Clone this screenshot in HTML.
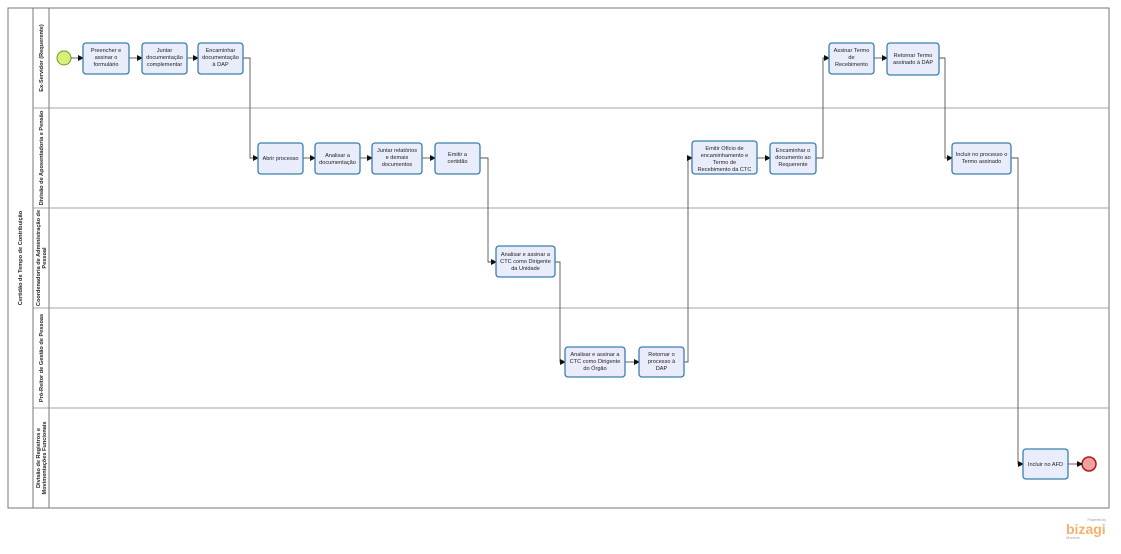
<!DOCTYPE html>
<html><head><meta charset="utf-8"><style>
html,body{margin:0;padding:0;background:#fff;width:1121px;height:554px;overflow:hidden}
svg{display:block}
text{font-family:"Liberation Sans",sans-serif}
.t{font-size:5.6px;fill:#222;text-anchor:middle}
.l{font-size:5.6px;font-weight:bold;fill:#222;text-anchor:middle}
.b{fill:#e9edfb;stroke:#3a7fae;stroke-width:1.3}
.c{fill:none;stroke:#555;stroke-width:0.9}
</style></head><body>
<svg width="1121" height="554" viewBox="0 0 1121 554">
<defs><marker id="a" markerWidth="6" markerHeight="6" refX="5" refY="3" orient="auto" markerUnits="userSpaceOnUse"><path d="M0,0 L6,3 L0,6 z" fill="#111"/></marker></defs>
<rect x="8" y="8" width="1101" height="500" fill="#fff" stroke="#777" stroke-width="1"/>
<line x1="33" y1="8" x2="33" y2="508" stroke="#777"/>
<line x1="49" y1="8" x2="49" y2="508" stroke="#777"/>
<g stroke="#888" stroke-width="0.8">
<line x1="33" y1="108" x2="1109" y2="108"/>
<line x1="33" y1="208" x2="1109" y2="208"/>
<line x1="33" y1="308" x2="1109" y2="308"/>
<line x1="33" y1="408" x2="1109" y2="408"/>
</g>
<text class="l" transform="translate(22,258) rotate(-90)">Certidão de Tempo de Contribuição</text>
<text class="l" transform="translate(43,58) rotate(-90)">Ex-Servidor (Requerente)</text>
<text class="l" transform="translate(43,158) rotate(-90)">Divisão de Aposentadoria e Pensão</text>
<text class="l" transform="translate(40,258) rotate(-90)">Coordenadoria de Administração de</text>
<text class="l" transform="translate(46,258) rotate(-90)">Pessoal</text>
<text class="l" transform="translate(43,358) rotate(-90)">Pró-Reitor de Gestão de Pessoas</text>
<text class="l" transform="translate(40,458) rotate(-90)">Divisão de Registros e</text>
<text class="l" transform="translate(46,458) rotate(-90)">Movimentações Funcionais</text>

<circle cx="64" cy="58" r="7" fill="#d6f07a" stroke="#6a9a20" stroke-width="1"/>
<circle cx="1089" cy="464" r="7" fill="#f0a0a0" stroke="#b01818" stroke-width="1.5"/>

<g class="c" marker-end="url(#a)">
<path d="M71,58 H83"/>
<path d="M129,58 H142"/>
<path d="M187,58 H198"/>
<path d="M243,58 H250 V158 H258"/>
<path d="M303,158 H315"/>
<path d="M360,158 H372"/>
<path d="M422,158 H435"/>
<path d="M480,158 H488 V262 H496"/>
<path d="M555,262 H560 V362 H565"/>
<path d="M625,362 H639"/>
<path d="M684,362 H688 V158 H692"/>
<path d="M757,158 H770"/>
<path d="M816,158 H823 V58 H829"/>
<path d="M874,58 H887"/>
<path d="M939,58 H945 V158 H952"/>
<path d="M1011,158 H1018 V464 H1023"/>
<path d="M1068,464 H1082"/>
</g>

<g>
<rect class="b" x="83" y="43" width="46" height="31" rx="3"/>
<text class="t" x="106" y="52">Preencher e</text><text class="t" x="106" y="59">assinar o</text><text class="t" x="106" y="66">formulário</text>
<rect class="b" x="142" y="43" width="45" height="31" rx="3"/>
<text class="t" x="164.5" y="52">Juntar</text><text class="t" x="164.5" y="59">documentação</text><text class="t" x="164.5" y="66">complementar</text>
<rect class="b" x="198" y="43" width="45" height="31" rx="3"/>
<text class="t" x="220.5" y="52">Encaminhar</text><text class="t" x="220.5" y="59">documentação</text><text class="t" x="220.5" y="66">à DAP</text>

<rect class="b" x="258" y="143" width="45" height="31" rx="3"/>
<text class="t" x="280.5" y="160">Abrir processo</text>
<rect class="b" x="315" y="143" width="45" height="31" rx="3"/>
<text class="t" x="337.5" y="157">Analisar a</text><text class="t" x="337.5" y="164">documentação</text>
<rect class="b" x="372" y="143" width="50" height="31" rx="3"/>
<text class="t" x="397" y="152">Juntar relatórios</text><text class="t" x="397" y="159">e demais</text><text class="t" x="397" y="166">documentos</text>
<rect class="b" x="435" y="143" width="45" height="31" rx="3"/>
<text class="t" x="457.5" y="156">Emitir a</text><text class="t" x="457.5" y="163">certidão</text>

<rect class="b" x="496" y="246" width="59" height="31" rx="3"/>
<text class="t" x="525.5" y="256">Analisar e assinar a</text><text class="t" x="525.5" y="263">CTC como Dirigente</text><text class="t" x="525.5" y="270">da Unidade</text>

<rect class="b" x="565" y="347" width="60" height="30" rx="3"/>
<text class="t" x="595" y="356">Analisar e assinar a</text><text class="t" x="595" y="363">CTC como Dirigente</text><text class="t" x="595" y="370">do Órgão</text>
<rect class="b" x="639" y="347" width="45" height="30" rx="3"/>
<text class="t" x="661.5" y="356">Retornar o</text><text class="t" x="661.5" y="363">processo à</text><text class="t" x="661.5" y="370">DAP</text>

<rect class="b" x="692" y="141" width="65" height="33" rx="3"/>
<text class="t" x="724.5" y="150">Emitir Ofício de</text><text class="t" x="724.5" y="157">encaminhamento e</text><text class="t" x="724.5" y="164">Termo de</text><text class="t" x="724.5" y="171">Recebimento da CTC</text>
<rect class="b" x="770" y="143" width="46" height="31" rx="3"/>
<text class="t" x="793" y="152">Encaminhar o</text><text class="t" x="793" y="159">documento ao</text><text class="t" x="793" y="166">Requerente</text>

<rect class="b" x="829" y="43" width="45" height="31" rx="3"/>
<text class="t" x="851.5" y="52">Assinar Termo</text><text class="t" x="851.5" y="59">de</text><text class="t" x="851.5" y="66">Recebimento</text>
<rect class="b" x="887" y="43" width="52" height="32" rx="3"/>
<text class="t" x="913" y="57">Retornar Termo</text><text class="t" x="913" y="64">assinado à DAP</text>

<rect class="b" x="952" y="143" width="59" height="31" rx="3"/>
<text class="t" x="981.5" y="156">Incluir no processo o</text><text class="t" x="981.5" y="163">Termo assinado</text>

<rect class="b" x="1023" y="449" width="45" height="30" rx="3"/>
<text class="t" x="1045.5" y="466">Incluir no AFD</text>
</g>

<text x="1106" y="521" font-size="3.5" fill="#999" text-anchor="end">Powered by</text>
<text x="1066" y="534" font-size="14" fill="#f5b070" font-weight="bold" style="font-family:'Liberation Sans',sans-serif">bizagi</text>
<text x="1066" y="539" font-size="4" fill="#aaa">Modeler</text>
</svg>
</body></html>
